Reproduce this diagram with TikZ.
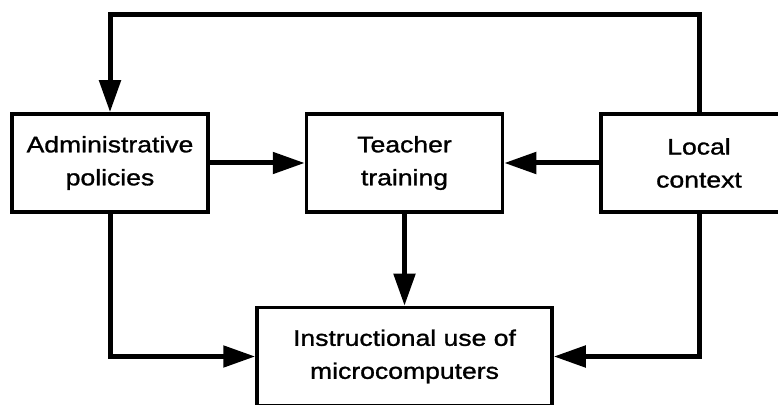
\documentclass[tikz,border=0pt]{standalone}
\usepackage{fontspec}
\newfontfamily\boxfont{Liberation Sans}[FakeStretch=1.18, FakeBold=1.2]
\usetikzlibrary{arrows.meta,positioning}
\tikzset{
  box/.style={draw, line width=3.5pt, align=center, inner sep=0pt, minimum width=196pt, minimum height=98pt, font=\boxfont\fontsize{22.5pt}{33pt}\selectfont},
  arrow/.style={-{Triangle[length=32pt, width=21pt]}, line width=5pt}
}

\begin{document}
\begin{tikzpicture}[node distance=92pt and 95pt]
    \useasboundingbox (0,0) rectangle (778pt,404pt);
    \node[box] (admin) at (110pt,241pt) {Administrative\\policies};
    \node[box, right=of admin] (teacher) {Teacher\\training};
    \node[box, right=of teacher] (local) {Local\\context};
    \node[box, below=of teacher, minimum width=295pt] (instr) {Instructional use of\\microcomputers};

    \draw[arrow] (local.north) -- ++(0,98pt) -| (admin.north);
    \draw[arrow] (admin) -- (teacher);
    \draw[arrow] (local) -- (teacher);
    \draw[arrow] (teacher) -- (instr);
    \draw[arrow] (admin.south) |- (instr.west);
    \draw[arrow] (local.south) |- (instr.east);
  \end{tikzpicture}
\end{document}
